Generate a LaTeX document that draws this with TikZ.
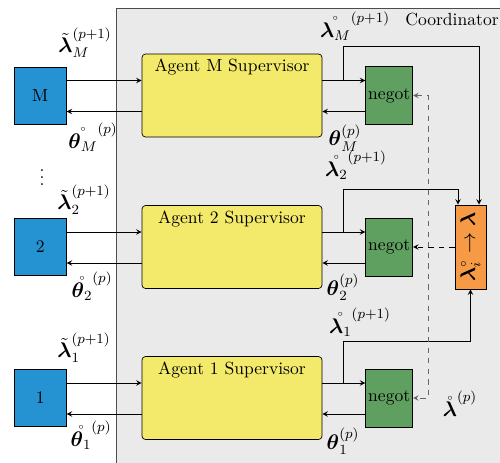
\documentclass[tikz,border=0pt]{standalone}
\usepackage{tikz}
\usetikzlibrary{shapes}
\usetikzlibrary{positioning}
\usepackage{amsmath}
\usepackage{graphicx}

\definecolor{coordgray}{HTML}{EAEAEA}
\definecolor{agentblue}{HTML}{2592D2}
\definecolor{superyellow}{HTML}{F3E96A}
\definecolor{negotgreen}{HTML}{5FA060}
\definecolor{updorange}{HTML}{F79A45}

\begin{document}
\begin{tikzpicture}[x=0.2mm, y=-0.2mm, >=stealth,
    agentbox/.style={draw, fill=agentblue, minimum width=1.04cm, minimum height=1.14cm},
    superbox/.style={draw, fill=superyellow, rounded corners=2pt, minimum width=3.6cm, minimum height=1.66cm},
    negotbox/.style={draw, fill=negotgreen, inner sep=0pt, minimum width=0.94cm, minimum height=1.16cm},
    updbox/.style={draw, fill=updorange, inner sep=0pt, minimum width=0.62cm, minimum height=1.68cm},
    dashline/.style={dashed, draw=black!60},
    sig/.style={inner sep=1pt, font=\large}]

    \useasboundingbox (0,0) rectangle (500,462);
    \draw[fill=coordgray, draw=black!70] (116,8) rectangle (520,480);
    \node(coordlbl) at (452,19){Coordinator};

    \node(SM)[superbox, label={[anchor=north, inner sep=3pt]north:Agent M Supervisor}] at (232,95.5){};
    \node(AM)[agentbox, left=1.5cm of SM]{M};
    \node(NM)[negotbox, right=0.86cm of SM]{negot};

    \node(S2)[superbox, label={[anchor=north, inner sep=3pt]north:Agent 2 Supervisor}] at (232,247){};
    \node(A2)[agentbox, left=1.5cm of S2]{2};
    \node(N2)[negotbox, right=0.86cm of S2]{negot};

    \node(S1)[superbox, label={[anchor=north, inner sep=3pt]north:Agent 1 Supervisor}] at (232,398){};
    \node(A1)[agentbox, left=1.5cm of S1]{1};
    \node(N1)[negotbox, right=0.86cm of S1]{negot};

    \node(upd)[updbox] at (470.5,247){\rotatebox{90}{\large$\boldsymbol{\lambda}^{\scriptscriptstyle\circ}_{i} \rightarrow \boldsymbol{\lambda}$}};

    \node(vd) at (42,172){$\vdots$};

    \draw[->] ([yshift=0.3cm]AM.east) -- ([yshift=0.3cm]SM.west);
    \draw[->] ([yshift=-0.32cm]SM.west) -- ([yshift=-0.32cm]AM.east);
    \draw[->] ([yshift=0.3cm]SM.east) -- ([yshift=0.3cm]NM.west);
    \draw[->] ([yshift=-0.32cm]NM.west) -- ([yshift=-0.32cm]SM.east);

    \draw[->] ([yshift=0.3cm]A2.east) -- ([yshift=0.3cm]S2.west);
    \draw[->] ([yshift=-0.32cm]S2.west) -- ([yshift=-0.32cm]A2.east);
    \draw[->] ([yshift=0.3cm]S2.east) -- ([yshift=0.3cm]N2.west);
    \draw[->] ([yshift=-0.32cm]N2.west) -- ([yshift=-0.32cm]S2.east);

    \draw[->] ([yshift=0.3cm]A1.east) -- ([yshift=0.3cm]S1.west);
    \draw[->] ([yshift=-0.32cm]S1.west) -- ([yshift=-0.32cm]A1.east);
    \draw[->] ([yshift=0.3cm]S1.east) -- ([yshift=0.3cm]N1.west);
    \draw[->] ([yshift=-0.32cm]N1.west) -- ([yshift=-0.32cm]S1.east);

    \coordinate(jM) at ([xshift=0.42cm, yshift=0.3cm]SM.east);
    \coordinate(j2) at ([xshift=0.42cm, yshift=0.3cm]S2.east);
    \coordinate(j1) at ([xshift=0.42cm, yshift=0.3cm]S1.east);
    \draw[->] (jM) -- ++(0,-34) -| ([xshift=0.17cm]upd.north);
    \draw[->] (j2) -- ++(0,-43) -| ([xshift=-0.25cm]upd.north);
    \draw[->] (j1) -- ++(0,-42) -| (upd.south);

    \coordinate(dM) at (428,95.5);
    \coordinate(d1) at (428,398);
    \draw[<->, dashline] (NM.east) -- (dM) -- (d1) -- (N1.east);
    \draw[->, dashed] (upd.west) -- (N2.east);

    \node(lamM)[sig] at (85,43){$\tilde{\boldsymbol{\lambda}}_{M}^{(p+1)}$};
    \node(thM)[sig] at (93,137){$\mathring{\boldsymbol{\theta}_{M}}^{(p)}$};
    \node(lam2)[sig] at (84,200){$\tilde{\boldsymbol{\lambda}}_{2}^{(p+1)}$};
    \node(th2)[sig] at (92,286){$\mathring{\boldsymbol{\theta}_{2}}^{(p)}$};
    \node(lam1)[sig] at (84,348){$\tilde{\boldsymbol{\lambda}}_{1}^{(p+1)}$};
    \node(th1)[sig] at (91,435){$\mathring{\boldsymbol{\theta}_{1}}^{(p)}$};

    \node(lamcM)[sig] at (355,26){$\mathring{\boldsymbol{\lambda}_{M}}^{(p+1)}$};
    \node(thcM)[sig] at (345,138){$\boldsymbol{\theta}_{M}^{(p)}$};
    \node(lamc2)[sig] at (356,165){$\mathring{\boldsymbol{\lambda}_{2}}^{(p+1)}$};
    \node(thc2)[sig] at (343,287){$\boldsymbol{\theta}_{2}^{(p)}$};
    \node(lamc1)[sig] at (360,322){$\mathring{\boldsymbol{\lambda}_{1}}^{(p+1)}$};
    \node(thc1)[sig] at (343,441){$\boldsymbol{\theta}_{1}^{(p)}$};
    \node(lamp)[sig] at (460,404){$\mathring{\boldsymbol{\lambda}}^{(p)}$};

\end{tikzpicture}
\end{document}
